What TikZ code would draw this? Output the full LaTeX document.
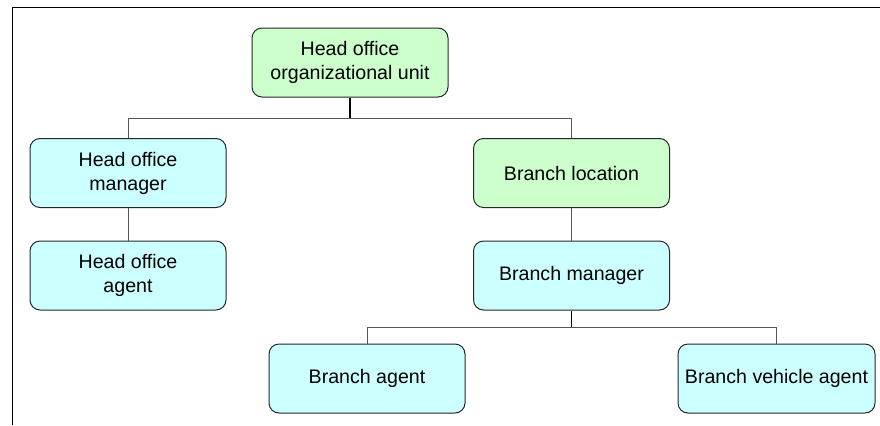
\documentclass[tikz,border=0pt]{standalone}
\usepackage{fontspec}
\setmainfont{Liberation Sans}
\definecolor{boxgreen}{HTML}{CCFFCC}
\definecolor{boxcyan}{HTML}{CCFFFF}
\definecolor{linegray}{HTML}{555555}
\begin{document}
\begin{tikzpicture}[x=0.75pt,y=-0.75pt,
  box/.style={draw=black!85, line width=0.75pt, rounded corners=7.5pt, minimum width=147pt,
    minimum height=51.75pt, inner sep=0pt, align=center, text=black,
    font=\fontsize{14.7}{18}\selectfont},
  gbox/.style={box, fill=boxgreen},
  cbox/.style={box, fill=boxcyan},
  stub/.style={draw=black, line width=1.1pt},
  link/.style={draw=linegray, line width=0.75pt}]
\useasboundingbox (0,0) rectangle (880,425);
\fill[white] (0,0) rectangle (880,425);
\draw[black, line width=0.75pt] (880,7) -- (12,7) -- (12,425);

\node[gbox] (top) at (350,62.5) {Head office\\organizational unit};
\node[cbox] (hom) at (128,173) {Head office\\manager};
\node[gbox] (bl) at (571.5,173) {Branch location};
\node[cbox] (hoa) at (128,275.5) {Head office\\agent};
\node[cbox] (bm) at (571.5,275.5) {Branch manager};
\node[cbox] (ba) at (367,378.5) {Branch agent};
\node[cbox, minimum width=147.75pt] (bva) at (776.5,378.5) {Branch vehicle agent};

\coordinate (j1) at (350,118);
\coordinate (j2) at (571.5,327);
\draw[link] (j1) -| (hom.north);
\draw[link] (j1) -| (bl.north);
\draw[stub] (top.south) -- (j1);
\draw[link] (hom.south) -- (hoa.north);
\draw[link] (bl.south) -- (bm.north);
\draw[link] (j2) -| (ba.north);
\draw[link] (j2) -| (bva.north);
\draw[stub] (bm.south) -- (j2);
\end{tikzpicture}
\end{document}
